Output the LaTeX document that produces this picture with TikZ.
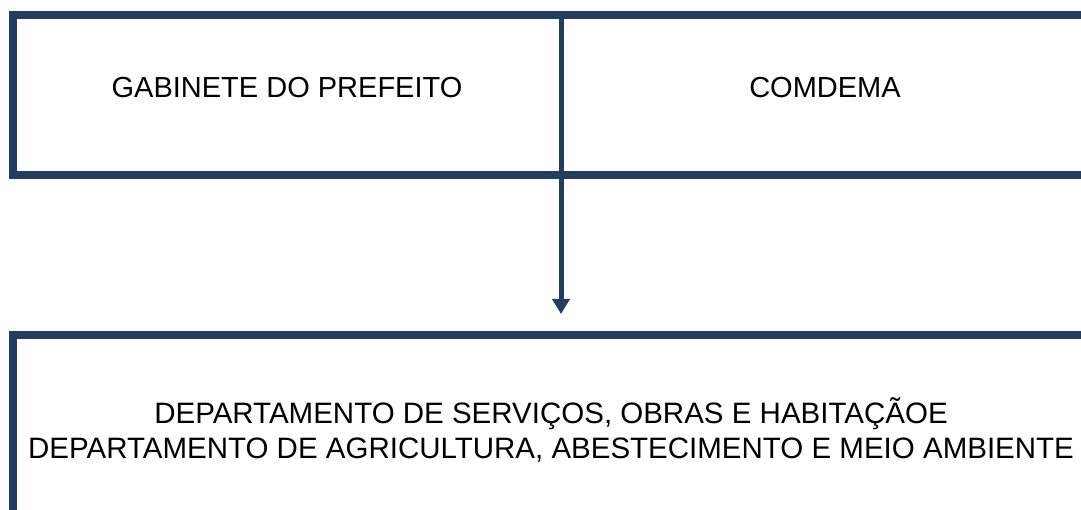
\documentclass[tikz,border=0pt]{standalone}
\usepackage{fontspec}
\setmainfont{Liberation Sans}
\usetikzlibrary{arrows.meta}
\definecolor{navy}{RGB}{35,61,94}
\begin{document}
\begin{tikzpicture}[x=1pt,y=-1pt,
  box/.style={draw=navy, line width=8pt, inner sep=0pt, rectangle},
  lbl/.style={text=black, inner sep=0pt, align=center},
  conn/.style={draw=navy, line width=5pt, -{Triangle[length=15pt,width=17pt]}}]
\useasboundingbox (0,0) rectangle (1081,510);
\clip (0,0) rectangle (1081,510);
\node[box, minimum width=1076pt, minimum height=160pt] (top) at (551,95) {};
\node[box, minimum width=1076pt, minimum height=190pt] (bottom) at (551,430) {};
\node[lbl, font=\fontsize{29}{35}\selectfont, anchor=base] (gab) at (287,98) {GABINETE DO PREFEITO};
\node[lbl, font=\fontsize{29}{35}\selectfont, anchor=base] (com) at (825,98) {COMDEMA};
\node[lbl, font=\fontsize{29.5}{35}\selectfont] (dep) at (551,430) {DEPARTAMENTO DE SERVIÇOS, OBRAS E HABITAÇÃOE\\DEPARTAMENTO DE AGRICULTURA, ABESTECIMENTO E MEIO AMBIENTE};
\coordinate (split) at (561,15);
\draw[conn, shorten >=17pt] (split) -- (split |- bottom.north);
\end{tikzpicture}
\end{document}
